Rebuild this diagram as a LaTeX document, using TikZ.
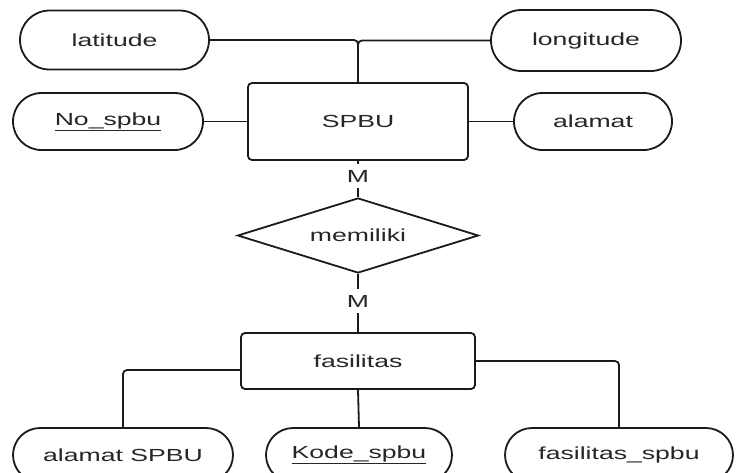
\documentclass[tikz,border=0pt]{standalone}
\usepackage{fontspec}
\newfontfamily\erfont{Liberation Sans}[FakeStretch=1.52]
\usetikzlibrary{shapes.geometric,shapes.misc}
\definecolor{ink}{HTML}{1A1A1A}
\definecolor{txt}{HTML}{262626}
\tikzset{
  er/.style={line width=1.8pt, draw=ink, text=txt, font=\erfont\fontsize{17.5}{20}\selectfont},
  attr/.style={er, rounded rectangle, inner sep=0pt},
  entity/.style={er, rectangle, rounded corners=4pt, inner sep=0pt},
  rel/.style={er, diamond, inner sep=0pt},
  link/.style={line width=1.8pt, draw=ink},
  card/.style={fill=white, text=txt, inner xsep=2pt, inner ysep=6pt, font=\erfont\fontsize{17.5}{20}\selectfont}
}
\begin{document}
\begin{tikzpicture}[x=1pt,y=-1pt]
\clip (0,0) rectangle (736,472);
\fill[white] (0,0) rectangle (736,472);

% attributes of SPBU
\node[attr, minimum width=189pt, minimum height=59pt] (lat) at (114.5,40) {latitude};
\node[attr, minimum width=190pt, minimum height=61pt] (lon) at (586,40.5) {longitude};
\node[attr, minimum width=190pt, minimum height=57pt] (nospbu) at (108,121.5) {\underline{No\_spbu}};
\node[attr, minimum width=158pt, minimum height=57pt] (alamat) at (593,121.5) {alamat};

% entities and relationship
\node[entity, minimum width=220pt, minimum height=77pt] (spbu) at (358,121.5) {SPBU};
\node[rel, minimum width=241pt, minimum height=75pt] (memiliki) at (358,235.5) {};
\node[er, draw=none] at (memiliki) {memiliki};
\node[entity, minimum width=234pt, minimum height=56pt] (fas) at (358,361) {fasilitas};

% attributes of fasilitas
\node[attr, minimum width=220pt, minimum height=54pt] (alamatspbu) at (123,455) {alamat SPBU};
\node[attr, minimum width=186pt, minimum height=54pt] (kode) at (359,455) {\underline{Kode\_spbu}};
\node[attr, minimum width=228pt, minimum height=54pt] (fasspbu) at (619,455) {fasilitas\_spbu};

% connectors
\draw[link, rounded corners=4pt] (lat.east) -| (spbu.north);
\draw[link, rounded corners=4pt] (lon.west) -| (spbu.north);
\draw[link] (nospbu.east) -- (spbu.west);
\draw[link] (alamat.west) -- (spbu.east);
\draw[link] (spbu.south) -- node[card, pos=0.43] (m1) {M} (memiliki.north);
\draw[link] (memiliki.south) -- node[card, pos=0.47] (m2) {M} (fas.north);
\draw[link, rounded corners=4pt] ([yshift=-9pt]fas.west) -| (alamatspbu.north);
\draw[link] (fas.south) -- (kode.north);
\draw[link, rounded corners=4pt] (fas.east) -| (fasspbu.north);
\end{tikzpicture}
\end{document}
